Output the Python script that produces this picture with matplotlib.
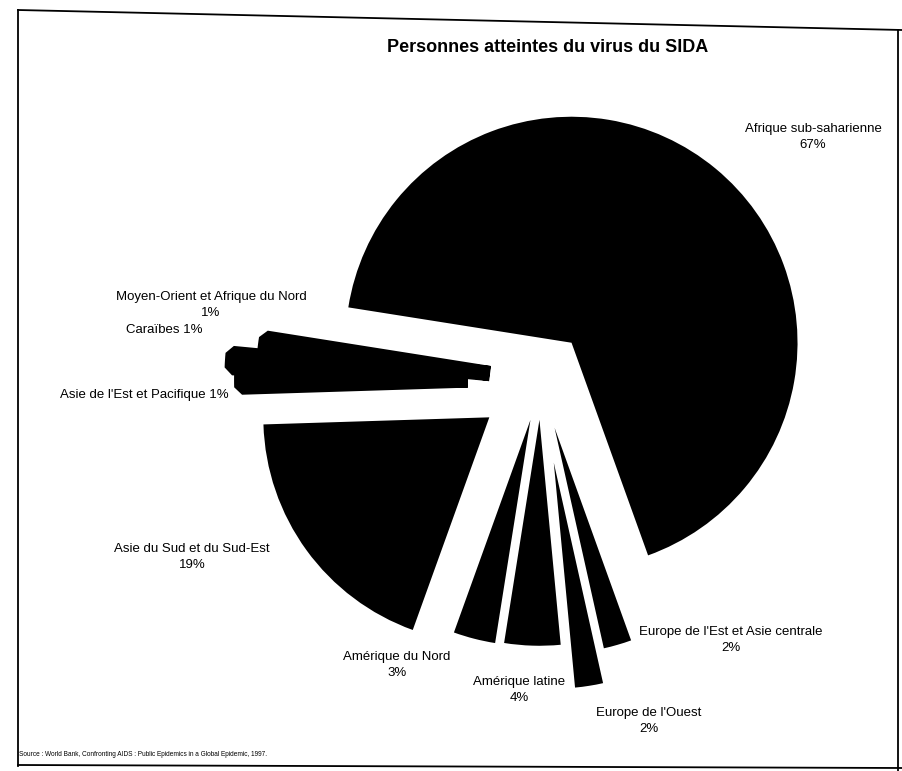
import matplotlib
matplotlib.use("Agg")
import matplotlib.pyplot as plt
from matplotlib.lines import Line2D

# ---- data -------------------------------------------------------------
regions = [
    "Afrique sub-saharienne",
    "Europe de l'Est et Asie centrale",
    "Europe de l'Ouest",
    "Amérique latine",
    "Amérique du Nord",
    "Asie du Sud et du Sud-Est",
    "Asie de l'Est et Pacifique",
    "Caraïbes",
    "Moyen-Orient et Afrique du Nord",
]
shares = [67, 2, 2, 4, 3, 19, 1, 1, 1]

title = "Personnes atteintes du virus du SIDA"
source = ("Source : World Bank, Confronting AIDS : Public Epidemics in a "
          "Global Epidemic, 1997.")

# ---- styling / layout -------------------------------------------------
RADIUS = 226
explode_frac = [0.214, 0.22, 0.37, 0.176, 0.182, 0.281, 0.323, 0.366, 0.227]
W, H = 902, 771
FONT = ["Liberation Sans", "DejaVu Sans"]

# label anchor (image pixel coords, y down), single-line flag
label_pos = {
    "Afrique sub-saharienne": (813, 137, False),
    "Europe de l'Est et Asie centrale": (731, 640, False),
    "Europe de l'Ouest": (649, 721, False),
    "Amérique latine": (519, 690, False),
    "Amérique du Nord": (397, 665, False),
    "Asie du Sud et du Sud-Est": (192, 557, False),
    "Asie de l'Est et Pacifique": (144, 395, True),
    "Caraïbes": (164, 330, True),
    "Moyen-Orient et Afrique du Nord": (211, 305, False),
}

fig = plt.figure(figsize=(W / 100, H / 100), dpi=100)
fig.patch.set_facecolor("white")
ax = fig.add_axes([0, 0, 1, 1])

# matplotlib's pie offsets wedges by explode in data units
wedges, _ = ax.pie(shares, explode=[e * RADIUS for e in explode_frac],
                   startangle=171, counterclock=False,
                   center=(540.7, H - 380), radius=RADIUS,
                   colors=["black"] * len(shares),
                   wedgeprops=dict(linewidth=0, antialiased=True))
# the tiny 1 % slices are drawn as thick bands in the original
for w in wedges[6:]:
    w.set_edgecolor("black")
    w.set_linewidth(11)
    w.set_joinstyle("bevel")

ax.set_xlim(0, W)
ax.set_ylim(0, H)
ax.set_aspect("equal")
ax.axis("off")

for name, val in zip(regions, shares):
    x, y, single = label_pos[name]
    txt = f"{name} {val}%" if single else f"{name}\n{val}%"
    ax.text(x, H - y, txt, ha="center", va="center", fontsize=9.5,
            family=FONT, linespacing=1.35, color="black")

ax.text(548, H - 47, title, ha="center", va="center", fontsize=13,
        fontweight="bold", family=FONT)
ax.text(19, H - 754, source, ha="left", va="center", fontsize=4.7,
        family=FONT)

# scanned page frame
def fline(x0, y0, x1, y1, lw=1.3):
    fig.add_artist(Line2D([x0 / W, x1 / W], [1 - y0 / H, 1 - y1 / H],
                          transform=fig.transFigure, color="black", lw=lw))

fline(18, 10, 902, 30)
fline(18, 10, 18, 766)
fline(18, 765, 902, 768)
fline(898, 30, 898, 771)

fig.savefig("out.png", dpi=100, facecolor="white")
